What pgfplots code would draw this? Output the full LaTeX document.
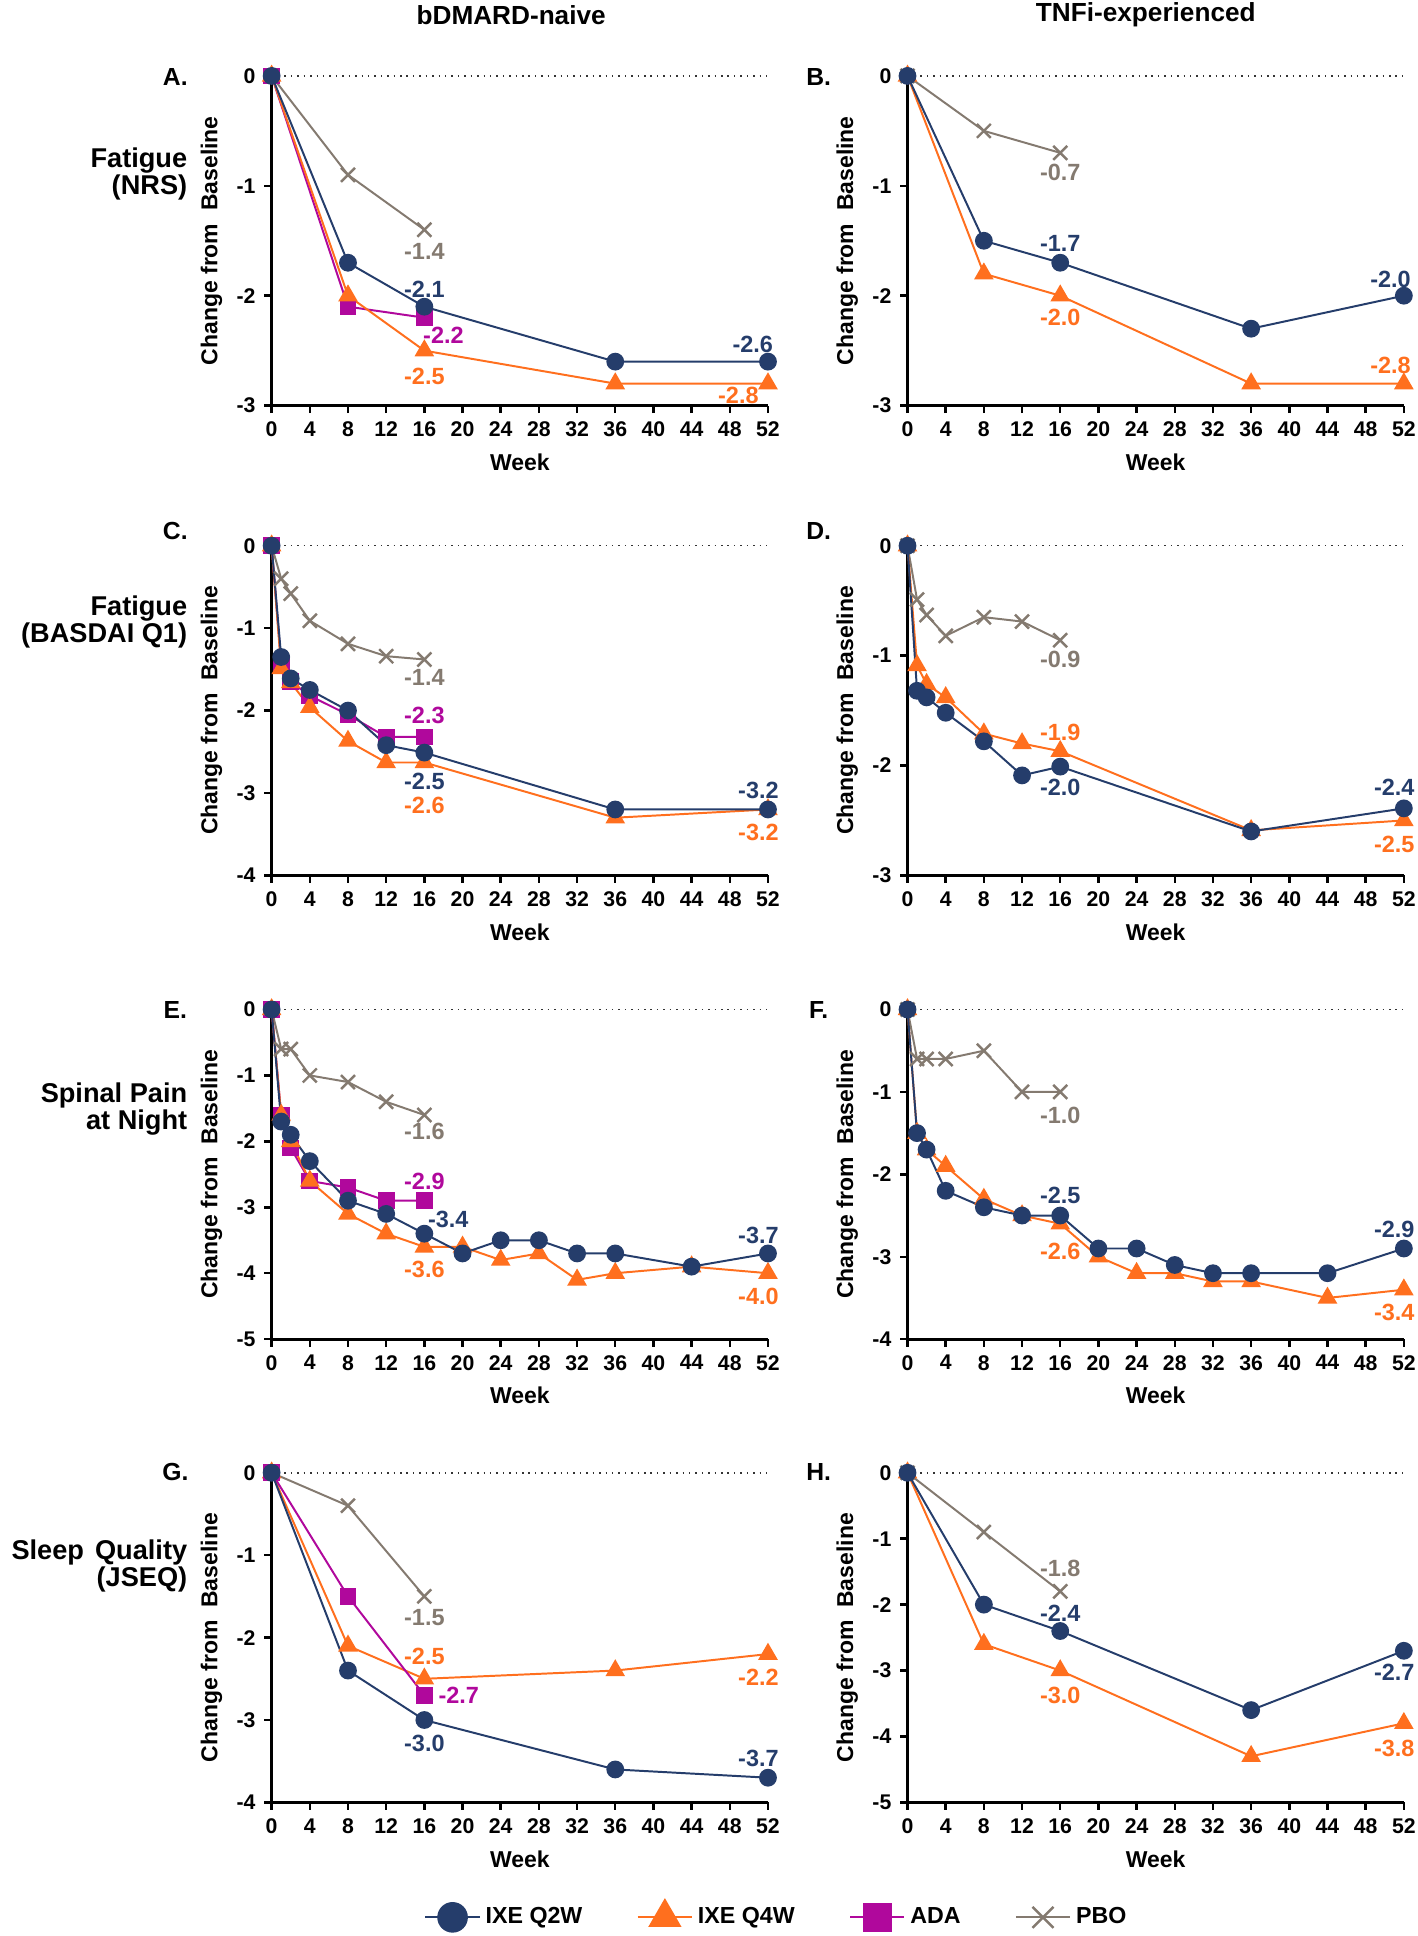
\documentclass[border=0pt]{standalone}
\usepackage{fontspec}
\setmainfont{Liberation Sans}
\usepackage{pgfplots}
\pgfplotsset{compat=1.18}

\definecolor{cnavy}{HTML}{253D6B}
\definecolor{corange}{HTML}{FF6F1E}
\definecolor{cmag}{HTML}{B0089C}
\definecolor{cgray}{HTML}{847A70}

\newcommand{\fs}[1]{\bfseries\fontsize{#1}{#1}\selectfont}
\newcommand{\zeroline}{\addplot[black!80, dotted, line width=0.6pt, forget plot] coordinates {(0,0)(52,0)};}

\tikzset{lab/.style={font=\fs{9.5}},
  rowlab/.style={font=\fs{11}, align=right, anchor=east, inner sep=0pt}}

\pgfplotsset{
  panel/.style={
    anchor=north west, scale only axis, width=201pt, height=133.5pt,
    xmin=0, xmax=52, xtick={0,4,...,52},
    axis lines=left, axis line style={line width=1.2pt, -},
    tick align=outside, major tick length=3pt,
    tick style={line width=1pt, black},
    clip=false,
    ticklabel style={font=\fs{8.6}},
    /pgf/number format/assume math mode=true,
    xlabel={Week}, ylabel={Change from~~Baseline},
    label style={font=\fs{9.3}},
    ylabel style={yshift=-1pt},
  },
  q2w/.style={color=cnavy, line width=0.8pt, mark=*, mark size=3.2pt, mark options={solid, fill=cnavy}, forget plot},
  q4w/.style={color=corange, line width=0.8pt, mark=triangle*, mark size=3.8pt, mark options={solid, fill=corange}, forget plot},
  ada/.style={color=cmag, line width=0.8pt, mark=square*, mark size=3pt, mark options={solid, fill=cmag}, forget plot},
  pbo/.style={color=cgray, line width=0.8pt, mark=x, mark size=4pt, mark options={solid, line width=1pt}, forget plot},
}

\begin{document}
\begin{tikzpicture}
\path[use as bounding box] (0,0) rectangle (574pt,-784pt);

% column and row headings
\node[font=\fs{10.6}] at (207pt,-6pt) {bDMARD-naive};
\node[font=\fs{10.6}] at (464pt,-6pt) {TNFi-experienced};
\node[rowlab] at (76pt,-70.5pt) {Fatigue\\(NRS)};
\node[rowlab] at (76pt,-252pt) {Fatigue\\(BASDAI Q1)};
\node[rowlab] at (76pt,-449pt) {Spinal Pain\\at Night};
\node[rowlab] at (76pt,-634pt) {Sleep\hspace{4.5pt}Quality\\(JSEQ)};
\foreach \l/\x/\y in {A/71/-31, B/331.5/-31, C/71/-215, D/331.5/-215, E/71/-409, F/331.5/-409, G/71/-596, H/331.5/-596}
  \node[font=\fs{10}] at (\x pt,\y pt) {\l.};

% A
\begin{axis}[panel, at={(110pt,-30.75pt)}, ymin=-3, ymax=0, ytick={-3,-2,-1,0}, yticklabels={-3,-2,-1,0}]
\zeroline
\addplot[pbo] coordinates {(0,0)(8,-0.9)(16,-1.4)};
\addplot[ada] coordinates {(0,0)(8,-2.1)(16,-2.2)};
\addplot[q4w] coordinates {(0,0)(8,-2.0)(16,-2.5)(36,-2.8)(52,-2.8)};
\addplot[q2w] coordinates {(0,0)(8,-1.7)(16,-2.1)(36,-2.6)(52,-2.6)};
\node[lab, text=cgray] at (axis cs:16,-1.6) {-1.4};
\node[lab, text=cnavy] at (axis cs:16,-1.94) {-2.1};
\node[lab, text=cmag] at (axis cs:18,-2.36) {-2.2};
\node[lab, text=corange] at (axis cs:16,-2.73) {-2.5};
\node[lab, text=cnavy] at (axis cs:50.4,-2.44) {-2.6};
\node[lab, text=corange] at (axis cs:48.9,-2.91) {-2.8};
\end{axis}

% B
\begin{axis}[panel, at={(367.5pt,-30.75pt)}, ymin=-3, ymax=0, ytick={-3,-2,-1,0}, yticklabels={-3,-2,-1,0}]
\zeroline
\addplot[pbo] coordinates {(0,0)(8,-0.5)(16,-0.7)};
\addplot[q4w] coordinates {(0,0)(8,-1.8)(16,-2.0)(36,-2.8)(52,-2.8)};
\addplot[q2w] coordinates {(0,0)(8,-1.5)(16,-1.7)(36,-2.3)(52,-2.0)};
\node[lab, text=cgray] at (axis cs:16,-0.88) {-0.7};
\node[lab, text=cnavy] at (axis cs:16,-1.52) {-1.7};
\node[lab, text=corange] at (axis cs:16,-2.2) {-2.0};
\node[lab, text=cnavy] at (axis cs:50.6,-1.85) {-2.0};
\node[lab, text=corange] at (axis cs:50.6,-2.63) {-2.8};
\end{axis}

% C
\begin{axis}[panel, at={(110pt,-221pt)}, ymin=-4, ymax=0, ytick={-4,-3,-2,-1,0}, yticklabels={-4,-3,-2,-1,0}]
\zeroline
\addplot[pbo] coordinates {(0,0)(1,-0.4)(2,-0.58)(4,-0.91)(8,-1.19)(12,-1.34)(16,-1.38)};
\addplot[ada] coordinates {(0,0)(1,-1.43)(2,-1.65)(4,-1.82)(8,-2.05)(12,-2.32)(16,-2.32)};
\addplot[q4w] coordinates {(0,0)(1,-1.49)(2,-1.66)(4,-1.96)(8,-2.37)(12,-2.63)(16,-2.63)(36,-3.3)(52,-3.2)};
\addplot[q2w] coordinates {(0,0)(1,-1.35)(2,-1.61)(4,-1.75)(8,-2.0)(12,-2.42)(16,-2.51)(36,-3.2)(52,-3.2)};
\node[lab, text=cgray] at (axis cs:16,-1.6) {-1.4};
\node[lab, text=cmag] at (axis cs:16,-2.06) {-2.3};
\node[lab, text=cnavy] at (axis cs:16,-2.86) {-2.5};
\node[lab, text=corange] at (axis cs:16,-3.15) {-2.6};
\node[lab, text=cnavy] at (axis cs:51,-2.97) {-3.2};
\node[lab, text=corange] at (axis cs:51,-3.48) {-3.2};
\end{axis}

% D
\begin{axis}[panel, at={(367.5pt,-221pt)}, ymin=-3, ymax=0, ytick={-3,-2,-1,0}, yticklabels={-3,-2,-1,0}]
\zeroline
\addplot[pbo] coordinates {(0,0)(1,-0.49)(2,-0.63)(4,-0.82)(8,-0.65)(12,-0.69)(16,-0.86)};
\addplot[q4w] coordinates {(0,0)(1,-1.09)(2,-1.26)(4,-1.38)(8,-1.71)(12,-1.8)(16,-1.87)(36,-2.59)(52,-2.5)};
\addplot[q2w] coordinates {(0,0)(1,-1.32)(2,-1.38)(4,-1.52)(8,-1.78)(12,-2.09)(16,-2.01)(36,-2.6)(52,-2.39)};
\node[lab, text=cgray] at (axis cs:16,-1.03) {-0.9};
\node[lab, text=corange] at (axis cs:16,-1.7) {-1.9};
\node[lab, text=cnavy] at (axis cs:16,-2.2) {-2.0};
\node[lab, text=cnavy] at (axis cs:51,-2.2) {-2.4};
\node[lab, text=corange] at (axis cs:51,-2.72) {-2.5};
\end{axis}

% E
\begin{axis}[panel, at={(110pt,-408.8pt)}, ymin=-5, ymax=0, ytick={-5,-4,-3,-2,-1,0}, yticklabels={-5,-4,-3,-2,-1,0}]
\zeroline
\addplot[pbo] coordinates {(0,0)(1,-0.6)(2,-0.6)(4,-1.0)(8,-1.1)(12,-1.4)(16,-1.6)};
\addplot[ada] coordinates {(0,0)(1,-1.6)(2,-2.1)(4,-2.6)(8,-2.7)(12,-2.9)(16,-2.9)};
\addplot[q4w] coordinates {(0,0)(1,-1.6)(2,-2.0)(4,-2.6)(8,-3.1)(12,-3.4)(16,-3.6)(20,-3.6)(24,-3.8)(28,-3.7)(32,-4.1)(36,-4.0)(44,-3.9)(52,-4.0)};
\addplot[q2w] coordinates {(0,0)(1,-1.7)(2,-1.9)(4,-2.3)(8,-2.9)(12,-3.1)(16,-3.4)(20,-3.7)(24,-3.5)(28,-3.5)(32,-3.7)(36,-3.7)(44,-3.9)(52,-3.7)};
\node[lab, text=cgray] at (axis cs:16,-1.85) {-1.6};
\node[lab, text=cmag] at (axis cs:16,-2.6) {-2.9};
\node[lab, text=cnavy] at (axis cs:18.5,-3.19) {-3.4};
\node[lab, text=corange] at (axis cs:16,-3.95) {-3.6};
\node[lab, text=cnavy] at (axis cs:51,-3.42) {-3.7};
\node[lab, text=corange] at (axis cs:51,-4.35) {-4.0};
\end{axis}

% F
\begin{axis}[panel, at={(367.5pt,-408.8pt)}, ymin=-4, ymax=0, ytick={-4,-3,-2,-1,0}, yticklabels={-4,-3,-2,-1,0}]
\zeroline
\addplot[pbo] coordinates {(0,0)(1,-0.6)(2,-0.6)(4,-0.6)(8,-0.5)(12,-1.0)(16,-1.0)};
\addplot[q4w] coordinates {(0,0)(1,-1.5)(2,-1.7)(4,-1.9)(8,-2.3)(12,-2.5)(16,-2.6)(20,-3.0)(24,-3.2)(28,-3.2)(32,-3.3)(36,-3.3)(44,-3.5)(52,-3.4)};
\addplot[q2w] coordinates {(0,0)(1,-1.5)(2,-1.7)(4,-2.2)(8,-2.4)(12,-2.5)(16,-2.5)(20,-2.9)(24,-2.9)(28,-3.1)(32,-3.2)(36,-3.2)(44,-3.2)(52,-2.9)};
\node[lab, text=cgray] at (axis cs:16,-1.28) {-1.0};
\node[lab, text=cnavy] at (axis cs:16,-2.25) {-2.5};
\node[lab, text=corange] at (axis cs:16,-2.94) {-2.6};
\node[lab, text=cnavy] at (axis cs:51,-2.67) {-2.9};
\node[lab, text=corange] at (axis cs:51,-3.67) {-3.4};
\end{axis}

% G
\begin{axis}[panel, at={(110pt,-596.4pt)}, ymin=-4, ymax=0, ytick={-4,-3,-2,-1,0}, yticklabels={-4,-3,-2,-1,0},
  legend style={at={(1.02,-0.345)}, anchor=center, draw=none, fill=none, legend columns=4,
    font=\fs{9.4}, /tikz/every even column/.append style={column sep=20pt}},
  legend image code/.code={\draw[mark repeat=2,mark phase=2] plot coordinates {(0pt,0pt)(11pt,0pt)(22pt,0pt)};}]
\addlegendimage{q2w, mark size=5.8pt}
\addlegendentry{IXE Q2W}
\addlegendimage{q4w, mark size=7pt}
\addlegendentry{IXE Q4W}
\addlegendimage{ada, mark size=5.4pt}
\addlegendentry{ADA}
\addlegendimage{pbo, mark size=6pt}
\addlegendentry{PBO}
\zeroline
\addplot[pbo] coordinates {(0,0)(8,-0.4)(16,-1.5)};
\addplot[q4w] coordinates {(0,0)(8,-2.1)(16,-2.5)(36,-2.4)(52,-2.2)};
\addplot[ada] coordinates {(0,0)(8,-1.5)(16,-2.7)};
\addplot[q2w] coordinates {(0,0)(8,-2.4)(16,-3.0)(36,-3.6)(52,-3.7)};
\node[lab, text=cgray] at (axis cs:16,-1.76) {-1.5};
\node[lab, text=corange] at (axis cs:16,-2.23) {-2.5};
\node[lab, text=cmag] at (axis cs:19.6,-2.7) {-2.7};
\node[lab, text=cnavy] at (axis cs:16,-3.29) {-3.0};
\node[lab, text=cnavy] at (axis cs:51,-3.47) {-3.7};
\node[lab, text=corange] at (axis cs:51,-2.48) {-2.2};
\end{axis}

% H
\begin{axis}[panel, at={(367.5pt,-596.4pt)}, ymin=-5, ymax=0, ytick={-5,-4,-3,-2,-1,0}, yticklabels={-5,-4,-3,-2,-1,0}]
\zeroline
\addplot[pbo] coordinates {(0,0)(8,-0.9)(16,-1.8)};
\addplot[q4w] coordinates {(0,0)(8,-2.6)(16,-3.0)(36,-4.3)(52,-3.8)};
\addplot[q2w] coordinates {(0,0)(8,-2.0)(16,-2.4)(36,-3.6)(52,-2.7)};
\node[lab, text=cgray] at (axis cs:16,-1.45) {-1.8};
\node[lab, text=cnavy] at (axis cs:16,-2.13) {-2.4};
\node[lab, text=corange] at (axis cs:16,-3.38) {-3.0};
\node[lab, text=cnavy] at (axis cs:51,-3.03) {-2.7};
\node[lab, text=corange] at (axis cs:51,-4.18) {-3.8};
\end{axis}
\end{tikzpicture}
\end{document}
